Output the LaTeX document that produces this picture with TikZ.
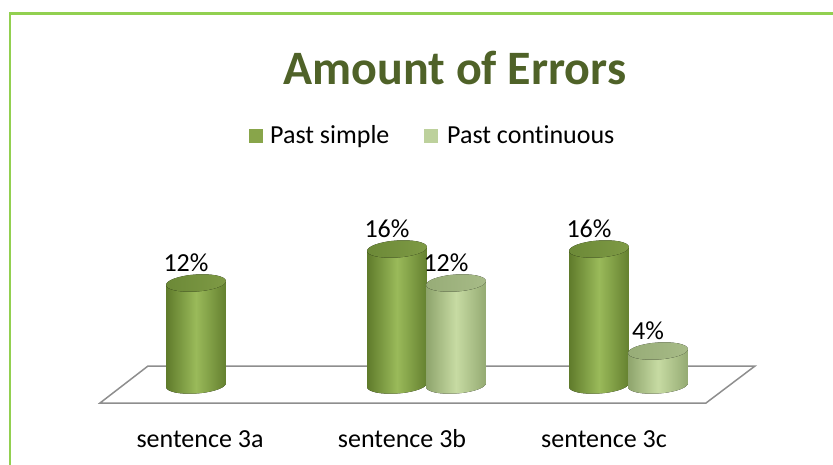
\documentclass[tikz,border=0pt]{standalone}
\usepackage{fontspec}
\setmainfont[Ligatures=NoCommon]{Carlito}
\usepackage{tikz}
\usetikzlibrary{positioning}

\definecolor{framegreen}{HTML}{92D050}
\definecolor{titlegreen}{HTML}{4F6228}
\definecolor{floorgray}{HTML}{8E8E8E}
\definecolor{psleft}{HTML}{5F7B2B}
\definecolor{psmid}{HTML}{9ABA5A}
\definecolor{psright}{HTML}{64802F}
\definecolor{pstopl}{HTML}{6C8937}
\definecolor{pstopr}{HTML}{7E9A45}
\definecolor{pcleft}{HTML}{8EA46C}
\definecolor{pcmid}{HTML}{C7DBA3}
\definecolor{pcright}{HTML}{94AA72}
\definecolor{pctopl}{HTML}{97AC77}
\definecolor{pctopr}{HTML}{A7BB87}
\definecolor{pskey}{HTML}{88A54A}
\definecolor{pckey}{HTML}{BDD19C}

\begin{document}
\begin{tikzpicture}[x=1pt,y=-1pt]
	\tikzstyle{frame}=[draw=framegreen, line width=2.5pt]
	\tikzstyle{floor}=[draw=floorgray, line width=1.5pt, line join=miter]
	\tikzstyle{body ps}=[left color=psleft, right color=psright, middle color=psmid]
	\tikzstyle{top ps}=[left color=pstopl, right color=pstopr]
	\tikzstyle{body pc}=[left color=pcleft, right color=pcright, middle color=pcmid]
	\tikzstyle{top pc}=[left color=pctopl, right color=pctopr]
	\tikzstyle{txt}=[inner sep=0pt, font=\fontsize{26}{31}\selectfont]
	\tikzstyle{keybox}=[rectangle, minimum size=14pt, inner sep=0pt]
	\tikzstyle{title}=[inner sep=0pt, text=titlegreen, font=\fontsize{48}{56}\selectfont\bfseries]

	\useasboundingbox (0,0) rectangle (833,464);
	\draw[frame] (10,470) -- (10,13.5) -- (840,13.5);

	% title and legend
	\node[title, anchor=base] (ttl) at (455,84) {Amount of Errors};
	\node[keybox, fill=pskey] (keyps) at (255.5,136) {};
	\node[txt, anchor=base west] (keypstxt) at (270,143) {Past simple};
	\node[keybox, fill=pckey] (keypc) at (431,136) {};
	\node[txt, anchor=base west] (keypctxt) at (447,143) {Past continuous};

	% floor
	\coordinate (fbl) at (100,403);
	\coordinate (fbr) at (706,403);
	\coordinate (ftr) at (755,366);
	\coordinate (ftl) at (148,366);
	\draw[floor] (fbl) -- (fbr) -- (ftr) -- (ftl) -- cycle;

	% cylinders
	\foreach \cx/\val/\kind/\nm in {196/12/ps/a,397/16/ps/b,456/12/pc/bb,599/16/ps/c,658/4/pc/cc}{
		\pgfmathsetmacro{\ty}{385-8.5*\val}
		\fill[body \kind] (\cx-29.93,\ty+2.09) -- (\cx-29.93,387.09)
			-- plot[domain=180:0,samples=40,variable=\t]
			({\cx+30*cos(\t)*0.99756+8.5*sin(\t)*0.069756},{385-30*cos(\t)*0.069756+8.5*sin(\t)*0.99756})
			-- (\cx+29.93,\ty-2.09) -- cycle;
		\fill[top \kind, rotate around={4:(\cx,\ty)}] (\cx,\ty) ellipse (30 and 8.5);
		\node[txt, anchor=base] (val-\nm) at (\cx-10,\ty-12) {\val\%};
	}

	% categories
	\node[txt, anchor=base] (cata) at (200,447) {sentence 3a};
	\node[txt, anchor=base] (catb) at (402,447) {sentence 3b};
	\node[txt, anchor=base] (catc) at (604,447) {sentence 3c};
\end{tikzpicture}
\end{document}
